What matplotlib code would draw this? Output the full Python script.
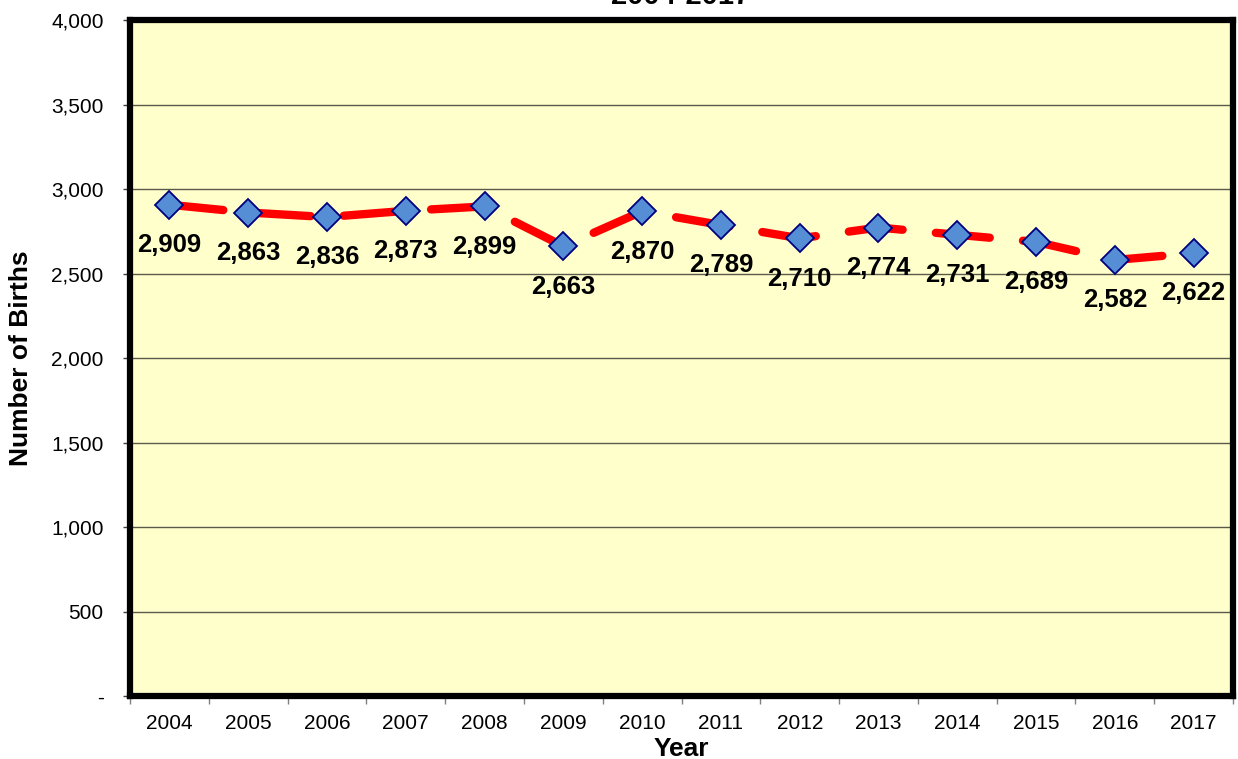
import matplotlib
matplotlib.use("Agg")
import matplotlib.pyplot as plt
from matplotlib.ticker import FixedLocator, FuncFormatter

plt.rcParams['font.family'] = ['Liberation Sans', 'DejaVu Sans']

years = ['2004', '2005', '2006', '2007', '2008', '2009', '2010',
         '2011', '2012', '2013', '2014', '2015', '2016', '2017']
births = [2909, 2863, 2836, 2873, 2899, 2663, 2870,
          2789, 2710, 2774, 2731, 2689, 2582, 2622]
yticks = [0, 500, 1000, 1500, 2000, 2500, 3000, 3500, 4000]

fig = plt.figure(figsize=(12.38, 7.59), dpi=100)
ax = fig.add_axes([0.105, 0.083, 0.891, 0.89])
ax.set_facecolor('#FFFFCC')

x = list(range(len(years)))
ax.plot(x, births, color='#FF0000', lw=6, linestyle=(0, (6.5, 4.0)),
        dash_capstyle='round', solid_capstyle='round', zorder=3)
ax.plot(x, births, linestyle='none', marker='D', markersize=14,
        markerfacecolor='#558ED5', markeredgecolor='#000080',
        markeredgewidth=1.3, zorder=4)

for xi, v in zip(x, births):
    ax.annotate(f"{v:,}", (xi, v), xytext=(0, -29), textcoords='offset points',
                ha='center', va='center', fontsize=18.5, fontweight='bold',
                color='black', zorder=5, annotation_clip=False)

ax.set_xlim(-0.5, len(years) - 0.5)
ax.set_ylim(0, 4000)

ax.set_yticks(yticks)
ax.yaxis.set_major_formatter(FuncFormatter(lambda v, p: '-' if v == 0 else f"{int(v):,}"))
ax.tick_params(axis='y', labelsize=15, length=5, width=1, color='#404040', pad=14)
ax.grid(axis='y', color='#5a5a4a', lw=1.0, zorder=1)

ax.set_xticks(x)
ax.set_xticklabels(years)
ax.tick_params(axis='x', which='major', length=0, labelsize=15, pad=13)
ax.xaxis.set_minor_locator(FixedLocator([i - 0.5 for i in range(len(years) + 1)]))
ax.tick_params(axis='x', which='minor', length=6, width=1, color='#808080')

for s in ax.spines.values():
    s.set_linewidth(4.5)
    s.set_color('black')

ax.set_ylabel('Number of Births', fontsize=19, fontweight='bold')
ax.yaxis.set_label_coords(-0.088, 0.5)
ax.set_xlabel('Year', fontsize=19, fontweight='bold', labelpad=3)

fig.text(0.55, 1 - 4 / 759, '2004-2017', ha='center', va='baseline',
         fontsize=21, fontweight='bold')

fig.savefig('out.png', dpi=100)
